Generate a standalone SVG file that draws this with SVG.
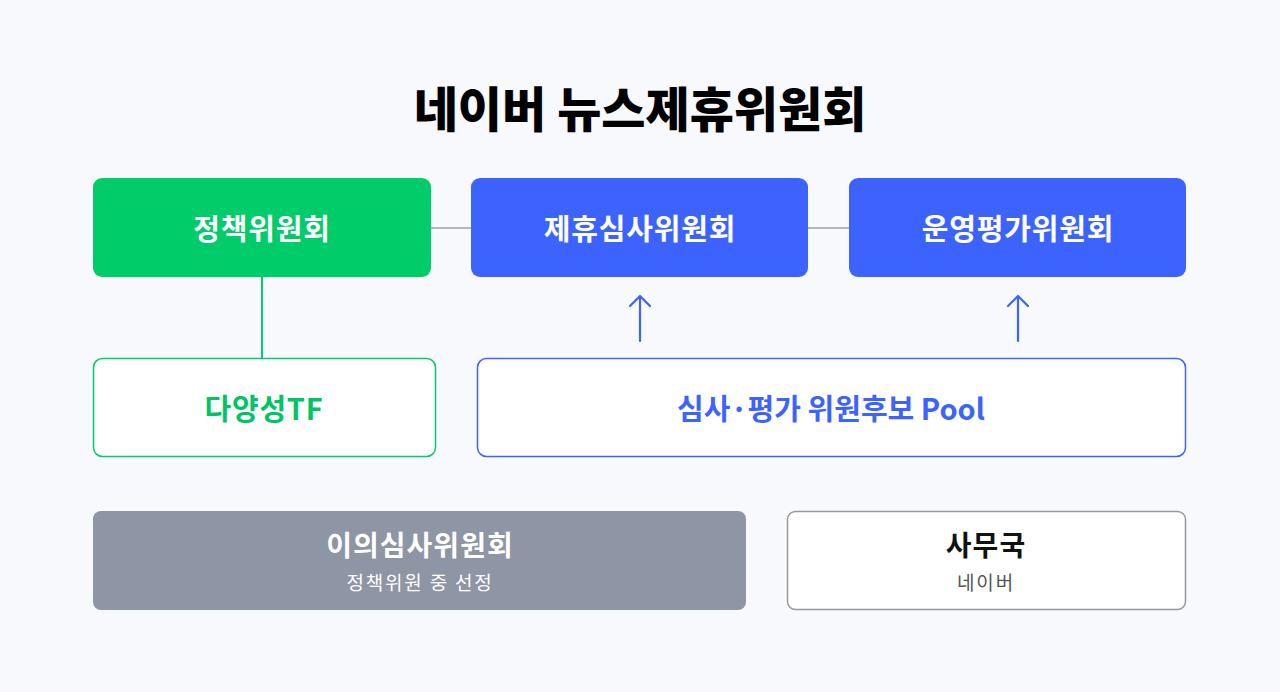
<svg xmlns="http://www.w3.org/2000/svg" width="1280" height="692" viewBox="0 0 1280 692">
<style>
text{font-family:"Noto Sans CJK KR","Noto Sans",sans-serif;text-anchor:middle}
.t1{font-size:29px;font-weight:700;fill:#fff;letter-spacing:0.8px}
.t2{font-size:28px;font-weight:700;letter-spacing:1px}
.sub{font-size:19px;letter-spacing:1.8px}
.title{font-size:48px;font-weight:900;fill:#000}
.arr{fill:none;stroke:#3d63ff;stroke-width:2.2;stroke-linecap:round;stroke-linejoin:round}
</style>
<rect width="1280" height="692" fill="#f8f9fd"/>
<text class="title" x="640" y="127">네이버 뉴스제휴위원회</text>
<g id="connectors">
<line x1="431" y1="228" x2="471" y2="228" stroke="#b5b7bc" stroke-width="2"/>
<line x1="808" y1="228" x2="849" y2="228" stroke="#b5b7bc" stroke-width="2"/>
<line x1="262" y1="277" x2="262" y2="358" stroke="#00cc6a" stroke-width="2"/>
<path class="arr" d="M640 341V296M630 306L640 296L650 306"/>
<path class="arr" d="M1018 341V296M1008 306L1018 296L1028 306"/>
</g>
<g id="policy">
<rect x="93" y="178" width="338" height="99" rx="9" fill="#00cc6a"/>
<text class="t1" x="262" y="240">정책위원회</text>
</g>
<g id="review">
<rect x="471" y="178" width="337" height="99" rx="9" fill="#3d63ff"/>
<text class="t1" x="640" y="240">제휴심사위원회</text>
</g>
<g id="operation">
<rect x="849" y="178" width="337" height="99" rx="9" fill="#3d63ff"/>
<text class="t1" x="1018" y="240">운영평가위원회</text>
</g>
<g id="diversity">
<rect x="93.5" y="358.5" width="342" height="98" rx="9" fill="#fff" stroke="#00cc6a" stroke-width="1.5"/>
<text x="264" y="420" style="font-size:29px;font-weight:700;fill:#00c466;letter-spacing:0.8px">다양성TF</text>
</g>
<g id="pool">
<rect x="477.5" y="358.5" width="708" height="98" rx="9" fill="#fff" stroke="#3d63ff" stroke-width="1.5"/>
<text x="831" y="420" style="font-size:29px;font-weight:600;fill:#3d63ff">심사·평가 위원후보 Pool</text>
</g>
<g id="appeal">
<rect x="93" y="511" width="653" height="99" rx="8" fill="#8e95a5"/>
<text class="t2" x="420" y="556" fill="#fff">이의심사위원회</text>
<text class="sub" x="420" y="590" fill="#fff">정책위원 중 선정</text>
</g>
<g id="office">
<rect x="787.5" y="511.5" width="398" height="98" rx="8" fill="#fff" stroke="#999" stroke-width="1.5"/>
<text class="t2" x="986" y="556" fill="#111">사무국</text>
<text class="sub" x="986" y="590" fill="#555">네이버</text>
</g>
</svg>
